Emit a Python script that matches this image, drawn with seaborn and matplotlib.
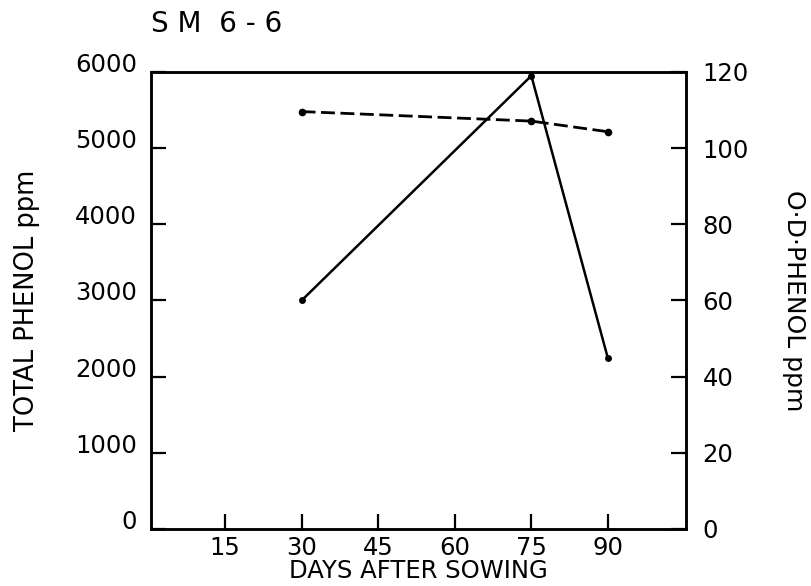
import matplotlib
matplotlib.use("Agg")
import matplotlib.pyplot as plt
import seaborn as sns
import pandas as pd

# ---- data ----
days = [30, 75, 90]
total_phenol = [3000, 5950, 2240]      # left axis, solid line
od_phenol = [109.6, 107.1, 104.3]      # right axis, dashed line

x_ticks = [15, 30, 45, 60, 75, 90]
left_ticks = [0, 1000, 2000, 3000, 4000, 5000, 6000]
right_ticks = [0, 20, 40, 60, 80, 100, 120]

title_text = "S M  6 - 6"
xlabel_text = "DAYS AFTER SOWING"
ylabel_left = "TOTAL PHENOL ppm"
ylabel_right = "O·D·PHENOL ppm"

sns.set_theme(style="white")
plt.rcParams["font.family"] = ["DejaVu Sans"]

df_total = pd.DataFrame({"days": days, "value": total_phenol})
df_od = pd.DataFrame({"days": days, "value": od_phenol})

fig = plt.figure(figsize=(8.11, 5.86), dpi=100)
ax = fig.add_axes([0.1862, 0.0973, 0.6597, 0.7799])
ax2 = ax.twinx()

sns.lineplot(data=df_total, x="days", y="value", ax=ax, color="black",
             lw=1.8, marker="o", markersize=5, markeredgewidth=0)
sns.lineplot(data=df_od, x="days", y="value", ax=ax2, color="black",
             lw=2.0, marker="o", markersize=5.5, markeredgewidth=0,
             dashes=False, linestyle=(0, (5, 2)))

ax.set_xlim(0.5, 105.3)
ax.set_ylim(0, 6000)
ax2.set_ylim(0, 120)

ax.set_xticks(x_ticks)
ax.set_xticklabels([str(t) for t in x_ticks])
ax.set_yticks(left_ticks)
ax.set_yticklabels([str(t) for t in left_ticks])
ax2.set_yticks(right_ticks)
ax2.set_yticklabels([str(t) for t in right_ticks])

fs = 17.5
ax.tick_params(axis="x", direction="in", length=11, width=1.6, pad=5,
               labelsize=fs, colors="black", bottom=True, top=False)
ax.tick_params(axis="y", direction="in", length=11, width=1.6, pad=10,
               labelsize=fs, colors="black", left=True, right=False)
ax2.tick_params(axis="y", direction="in", length=11, width=1.6, pad=12,
                labelsize=fs, colors="black", right=True, left=False)
for lbl in ax.get_yticklabels():
    lbl.set_verticalalignment("baseline")

for a in (ax, ax2):
    for s in a.spines.values():
        s.set_linewidth(1.8)
        s.set_color("black")

ax.set_xlabel(xlabel_text, fontsize=17.5, color="black", va="center")
ax.xaxis.set_label_coords(0.5, -0.093)
ax.set_ylabel(ylabel_left, fontsize=18.5, color="black", va="center")
ax.yaxis.set_label_coords(-0.232, 0.5)
ax2.set_ylabel(ylabel_right, fontsize=18, color="black", rotation=270,
               va="center")
ax2.yaxis.set_label_coords(1.202, 0.5)

fig.text(151 / 811, 1 - 24 / 586, title_text, fontsize=20, color="black",
         ha="left", va="center")

fig.savefig("out.png", dpi=100, facecolor="white")
